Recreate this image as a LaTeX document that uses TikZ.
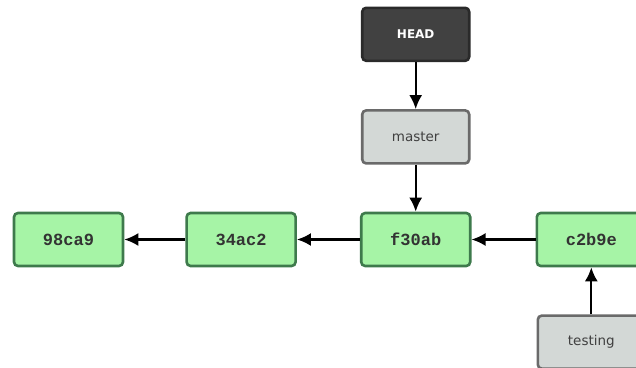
\documentclass[tikz,border=0pt]{standalone}
\usepackage{fontspec}
\setmainfont{DejaVu Sans}
\setmonofont{Liberation Mono}
\usepackage{tikz}
\usetikzlibrary{positioning, arrows.meta}

\definecolor{commitfill}{HTML}{A6F4A6}
\definecolor{commitline}{HTML}{3E7A4C}
\definecolor{branchfill}{HTML}{D3D8D6}
\definecolor{branchline}{HTML}{6A6A6A}
\definecolor{headfill}{HTML}{414141}
\definecolor{headline}{HTML}{2A2A2A}

\begin{document}
\begin{tikzpicture}[
            x=1pt, y=1pt,
            node distance=47pt and 61pt,
            commit/.style={draw=commitline, fill=commitfill, line width=2.6pt, rounded corners=4pt,
                minimum width=109pt, minimum height=53pt, inner sep=0pt,
                font=\fontsize{17}{20}\selectfont\ttfamily\bfseries, text=black!80},
            branch/.style={draw=branchline, fill=branchfill, line width=2.6pt, rounded corners=4pt,
                minimum width=107pt, minimum height=53pt, inner sep=0pt,
                font=\fontsize{13.5}{16}\selectfont, text=black!75},
            headptr/.style={branch, draw=headline, fill=headfill, text=white,
                font=\fontsize{12}{14}\selectfont\bfseries},
            ptr/.style={draw, line width=2.2pt, -{Latex[length=14pt, width=13pt]}}
        ]
    % frame of the picture
    \useasboundingbox (0,0) rectangle (636,-367);
    \clip (0,0) rectangle (636,-367);

    % commits, newest on the right
    \node[commit] (c0) at (68.5,-239.5) {98ca9};
    \node[commit, right=61pt of c0] (c1) {34ac2};
    \node[commit, right=63pt of c1] (c2) {f30ab};
    \node[commit, right=64pt of c2] (c3) {c2b9e};

    % branches
    \node[branch, above=of c2] (master) {master};
    \node[headptr, above=of master] (HEAD) {HEAD};
    \node[branch, below=of c3] (testing) {testing};

    % parent links
    \draw[ptr] (c1) -- (c0);
    \draw[ptr] (c2) -- (c1);
    \draw[ptr] (c3) -- (c2);

    % pointers
    \draw[ptr] (HEAD) -- (master);
    \draw[ptr] (master) -- (c2);
    \draw[ptr] (testing) -- (c3);
\end{tikzpicture}
\end{document}
